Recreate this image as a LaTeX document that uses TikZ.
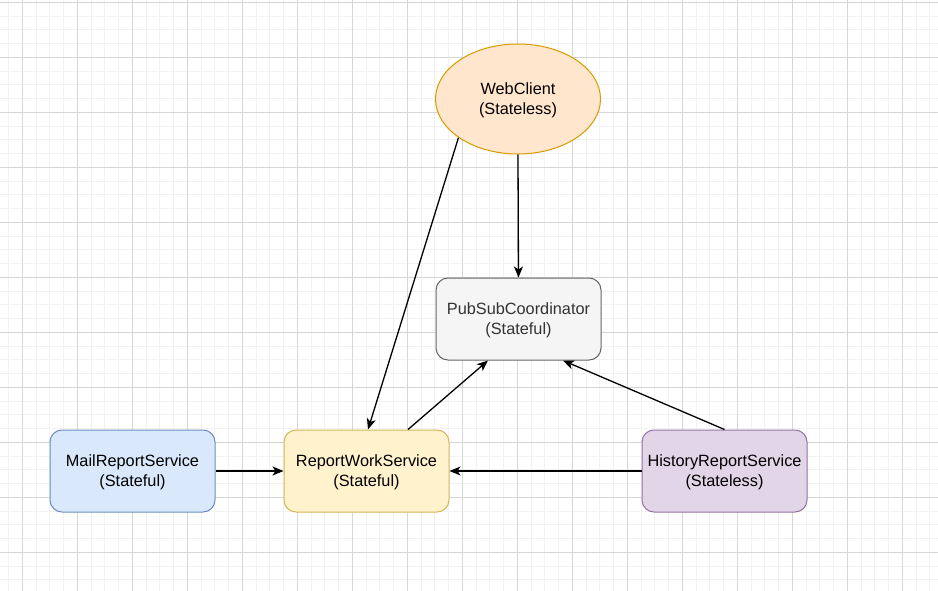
\documentclass[tikz,border=0pt]{standalone}
\usepackage{fontspec}
\setmainfont{Liberation Sans}
\usetikzlibrary{arrows.meta,shapes.geometric}
\definecolor{gridminor}{HTML}{F2F2F2}
\definecolor{gridmajor}{HTML}{D6D6D6}
\definecolor{orfill}{HTML}{FFE6CC}\definecolor{ordraw}{HTML}{D79B00}
\definecolor{grfill}{HTML}{F5F5F5}\definecolor{grdraw}{HTML}{666666}\definecolor{grtext}{HTML}{333333}
\definecolor{blfill}{HTML}{DAE8FC}\definecolor{bldraw}{HTML}{6C8EBF}
\definecolor{yefill}{HTML}{FFF2CC}\definecolor{yedraw}{HTML}{D6B656}
\definecolor{pufill}{HTML}{E1D5E7}\definecolor{pudraw}{HTML}{9673A6}
\tikzset{
  lbl/.style={font=\fontsize{16.3}{20}\selectfont, align=center},
  box/.style={rounded corners=12pt, minimum width=165pt, minimum height=82pt, inner sep=0pt, line width=1pt},
  oval/.style={ellipse, minimum width=165pt, minimum height=110pt, inner sep=0pt, line width=1pt},
  conn/.style={line width=1.3pt, -{Stealth[length=11pt,width=9pt,inset=3pt]}}
}
\begin{document}
\begin{tikzpicture}[x=1pt,y=-1pt]
\useasboundingbox (0,0) rectangle (938,591);
\fill[white] (0,0) rectangle (938,591);
% minor grid
\foreach \i in {0,...,69} {
  \draw[gridminor, line width=1pt] ({8.55+13.75*\i},0) -- ({8.55+13.75*\i},591);
}
\foreach \j in {0,...,43} {
  \draw[gridminor, line width=1pt] (0,{2.3+13.75*\j}) -- (938,{2.3+13.75*\j});
}
% major grid
\foreach \i in {0,...,16} {
  \draw[gridmajor, line width=1pt] ({22.3+55*\i},0) -- ({22.3+55*\i},591);
}
\foreach \j in {0,...,10} {
  \draw[gridmajor, line width=1pt] (0,{2.3+55*\j}) -- (938,{2.3+55*\j});
}
\node[oval, fill=orfill, draw=ordraw] (web) at (518,99) {};
\node[box, fill=grfill, draw=grdraw] (pub) at (518.5,319) {};
\node[box, fill=blfill, draw=bldraw] (mail) at (132.5,471) {};
\node[box, fill=yefill, draw=yedraw] (work) at (366.5,471) {};
\node[box, fill=pufill, draw=pudraw] (hist) at (724.5,471) {};
\node[lbl] (webt) at ([yshift=-1.5pt]web.center) {WebClient\\(Stateless)};
\node[lbl, text=grtext] (pubt) at ([yshift=-1.5pt]pub.center) {PubSubCoordinator\\(Stateful)};
\node[lbl] (mailt) at ([yshift=-1.5pt]mail.center) {MailReportService\\(Stateful)};
\node[lbl] (workt) at ([yshift=-1.5pt]work.center) {ReportWorkService\\(Stateful)};
\node[lbl] (histt) at ([yshift=-1.5pt]hist.center) {HistoryReportService\\(Stateless)};
\coordinate (webl) at (web.213);
\coordinate (worktop) at ([xshift=1.5pt]work.north);
\coordinate (workr) at ([xshift=41.5pt]work.north);
\coordinate (publ) at ([xshift=-30.5pt]pub.south);
\coordinate (pubr) at ([xshift=44.5pt]pub.south);
\draw[conn] (web.south) -- (pub.north);
\draw[conn] (webl) -- (worktop);
\draw[conn] (workr) -- (publ);
\draw[conn] (hist.north) -- (pubr);
\draw[conn] (mail.east) -- (work.west);
\draw[conn] (hist.west) -- (work.east);
\end{tikzpicture}
\end{document}
